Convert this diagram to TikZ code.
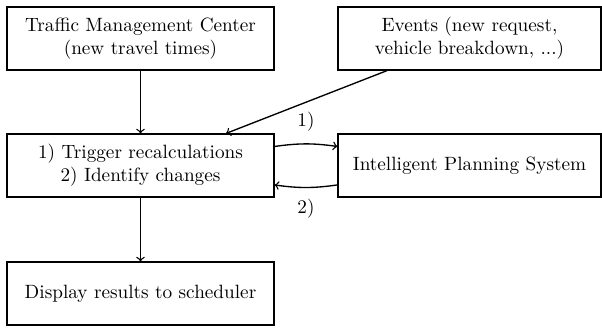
\documentclass[tikz,border=0pt]{standalone}
\usetikzlibrary{calc}
\begin{document}
\begin{tikzpicture}[x=0.52pt,y=-0.52pt,
  box/.style={draw,line width=0.6pt,rectangle,align=center,minimum height=32.8pt,inner sep=0pt},
  lbox/.style={box,minimum width=138.8pt},
  rbox/.style={box,minimum width=136.8pt},
  conn/.style={->,line width=0.7pt}]
\useasboundingbox (0,0) rectangle (602,327);
\node[lbox] (tmc) at (140.5,38.5) {Traffic Management Center\\(new travel times)};
\node[rbox] (ev) at (469.5,38.5) {Events (new request,\\vehicle breakdown, ...)};
\node[lbox] (trig) at (140.5,165.5) {1) Trigger recalculations\\2) Identify changes};
\node[rbox] (ips) at (469.5,165.5) {Intelligent Planning System};
\node[lbox] (disp) at (140.5,293.5) {Display results to scheduler};
\draw[conn] (tmc.south) -- (trig.north);
\draw[conn] ([xshift=-42.9pt]ev.south) -- ([xshift=44.5pt]trig.north);
\draw[conn] ([yshift=9.9pt]trig.east) to[bend left=8] node[above=3pt] (l1) {1)} ([yshift=9.9pt]ips.west);
\draw[conn] ([yshift=-10.1pt]ips.west) to[bend left=8] node[below=2.5pt] (l2) {2)} ([yshift=-10.1pt]trig.east);
\draw[conn] (trig.south) -- (disp.north);
\end{tikzpicture}
\end{document}
